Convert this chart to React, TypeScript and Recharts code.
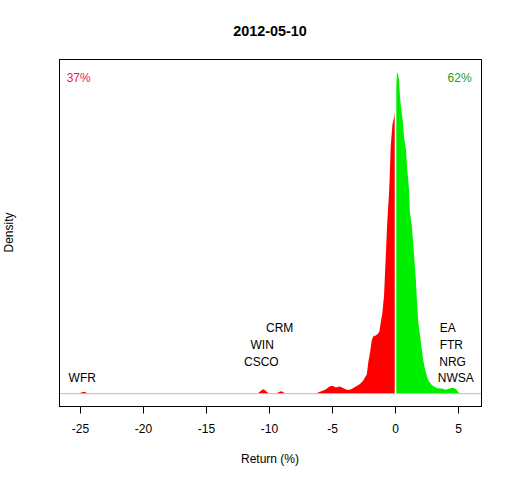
import {
  ComposedChart,
  Area,
  Scatter,
  XAxis,
  YAxis,
  ReferenceLine,
} from "recharts";

// Daily return (%) and its density, left of zero
const lossReturns = [
  -25.1, -24.95, -24.8, -24.62, -24.44,
  -10.95, -10.75, -10.52, -10.32, -10.05,
  -9.47, -9.25, -9.08, -8.9, -8.72,
  -6.39, -6.23, -5.99, -5.59, -5.2, -4.98, -4.8, -4.64, -4.46, -4.32,
  -4.14, -3.87, -3.61, -3.35, -3.08, -2.82, -2.55, -2.42, -2.28, -2.16,
  -2.02, -1.89, -1.76, -1.57, -1.41, -1.28, -1.17, -1.05, -0.91, -0.78,
  -0.67, -0.59, -0.51, -0.46, -0.38, -0.3, -0.24, -0.17, -0.08, 0,
];
const lossDensity = [
  0, 0.0012, 0.002, 0.0018, 0,
  0, 0.0025, 0.005, 0.0035, 0,
  0, 0.0018, 0.0027, 0.0015, 0,
  0, 0.0008, 0.0023, 0.0046, 0.0084, 0.0092, 0.0073, 0.0075, 0.0081, 0.0078,
  0.0061, 0.0046, 0.0046, 0.0066, 0.0089, 0.0112, 0.015, 0.0188, 0.022, 0.0361,
  0.0476, 0.0611, 0.066, 0.0669, 0.0688, 0.0715, 0.0822, 0.0919, 0.113, 0.1553,
  0.1936, 0.2132, 0.2317, 0.2501, 0.2847, 0.2997, 0.31, 0.3147, 0.32, 0.33,
];

// ...and right of zero
const gainReturns = [
  0, 0.04, 0.12, 0.2, 0.28, 0.36, 0.44, 0.52, 0.6, 0.68,
  0.76, 0.84, 0.92, 1.0, 1.07, 1.15, 1.29, 1.42, 1.49, 1.61,
  1.71, 1.81, 1.95, 2.08, 2.21, 2.34, 2.48, 2.61, 2.88, 3.14,
  3.38, 3.54, 3.8, 4.01, 4.33, 4.59, 4.81, 4.96, 5.12,
];
const gainDensity = [
  0.345, 0.3538, 0.37, 0.3677, 0.3619, 0.3412, 0.3296, 0.3204, 0.3112, 0.2951,
  0.2882, 0.2801, 0.2593, 0.2478, 0.2351, 0.2075, 0.1936, 0.1706, 0.1553, 0.1322,
  0.1052, 0.0822, 0.0669, 0.0515, 0.038, 0.0285, 0.0207, 0.015, 0.01, 0.0073,
  0.0058, 0.0063, 0.0054, 0.0046, 0.0063, 0.0069, 0.0052, 0.0023, 0,
];

// Outlier tickers, their return and the height their name is written at
const tickerNames = ["WFR", "CSCO", "WIN", "CRM", "EA", "FTR", "NRG", "NWSA"];
const tickerReturns = [-24.86, -10.65, -10.58, -9.19, 4.15, 4.43, 4.53, 4.79];
const tickerLevels = [0.0185, 0.037, 0.0565, 0.076, 0.076, 0.0565, 0.037, 0.0185];

const xTicks = [-25, -20, -15, -10, -5, 0, 5];
const shareDown = "37%";
const shareUp = "62%";
const dateTitle = "2012-05-10";

const densityRows = [
  ...lossReturns.map((r, i) => ({ r, neg: lossDensity[i] })),
  ...gainReturns.map((r, i) => ({ r, pos: gainDensity[i] })),
];
const tickerRows = tickerNames.map((name, i) => ({
  r: tickerReturns[i],
  level: tickerLevels[i],
  name,
}));

const FONT = "'Liberation Sans', Arial, sans-serif";

const TickerLabel = (props: any) => (
  <text
    x={props.cx}
    y={props.cy}
    textAnchor="middle"
    dominantBaseline="central"
    fontSize={12}
    fontFamily={FONT}
    fill="#000"
  >
    {props.payload.name}
  </text>
);

export default function App() {
  return (
    <div
      style={{
        position: "absolute",
        left: 0,
        top: 0,
        width: 512,
        height: 480,
        background: "#fff",
        fontFamily: FONT,
      }}
    >
      <ComposedChart
        width={512}
        height={480}
        data={densityRows}
        margin={{ top: 59.5, right: 30.5, bottom: 43.5, left: 59.5 }}
      >
        <XAxis
          dataKey="r"
          type="number"
          domain={[-26.667, 6.825]}
          ticks={xTicks}
          interval={0}
          height={30}
          axisLine={false}
          tickSize={7}
          tickMargin={11}
          tickLine={{ stroke: "#000" }}
          tick={{ fontSize: 12, fill: "#000", fontFamily: FONT }}
        />
        <YAxis type="number" domain={[-0.0148, 0.3848]} hide />
        <ReferenceLine y={0} stroke="#bebebe" strokeWidth={1} />
        <Area
          dataKey="neg"
          type="linear"
          fill="#ff0000"
          fillOpacity={1}
          stroke="none"
          baseValue={0}
          isAnimationActive={false}
          dot={false}
          activeDot={false}
        />
        <Area
          dataKey="pos"
          type="linear"
          fill="#00ee00"
          fillOpacity={1}
          stroke="none"
          baseValue={0}
          isAnimationActive={false}
          dot={false}
          activeDot={false}
        />
        <ReferenceLine
          segment={[
            { x: 0, y: 0 },
            { x: 0, y: 0.37 },
          ]}
          stroke="#fff"
          strokeWidth={1.6}
        />
        <Scatter
          data={tickerRows}
          dataKey="level"
          shape={TickerLabel}
          isAnimationActive={false}
        />
      </ComposedChart>
      <svg
        width={512}
        height={480}
        style={{ position: "absolute", left: 0, top: 0, pointerEvents: "none" }}
      >
        <rect x={59.5} y={59.5} width={422} height={347} fill="none" stroke="#000" />
        <text x={270} y={35.7} textAnchor="middle" fontSize={14.4} fontWeight="bold" fill="#000">
          {dateTitle}
        </text>
        <text x={270} y={462.7} textAnchor="middle" fontSize={12} fill="#000">
          Return (%)
        </text>
        <text
          x={13}
          y={232.5}
          transform="rotate(-90 13 232.5)"
          textAnchor="middle"
          fontSize={12}
          fill="#000"
        >
          Density
        </text>
        <text x={66.7} y={82} fontSize={12} fill="#f0203c">
          {shareDown}
        </text>
        <text x={471.6} y={82} textAnchor="end" fontSize={12} fill="#2a9a22">
          {shareUp}
        </text>
      </svg>
    </div>
  );
}
